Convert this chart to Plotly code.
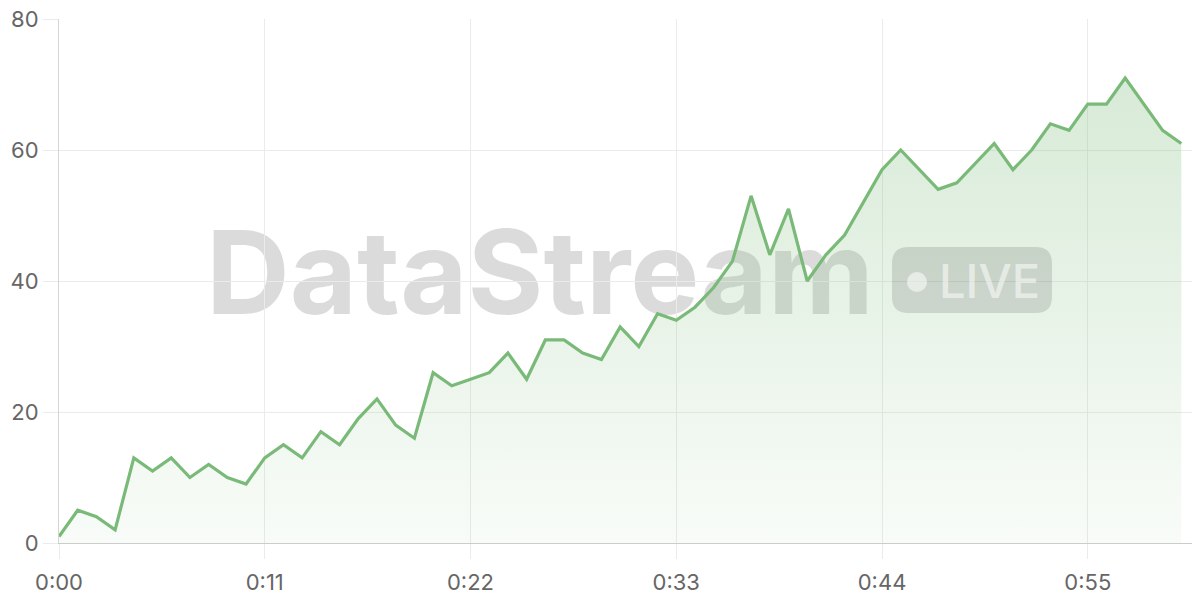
import plotly.graph_objects as go

# seconds since start and the streamed values
seconds = [0, 1, 2, 3, 4, 5, 6, 7, 8, 9, 10, 11, 12, 13, 14, 15, 16, 17, 18, 19,
           20, 21, 22, 23, 24, 25, 26, 27, 28, 29, 30, 31, 32, 33, 34, 35, 36, 37, 38, 39,
           40, 41, 42, 43, 44, 45, 46, 47, 48, 49, 50, 51, 52, 53, 54, 55, 56, 57, 58, 59, 60]
values = [1, 5, 4, 2, 13, 11, 13, 10, 12, 10, 9, 13, 15, 13, 17, 15, 19, 22, 18, 16,
          26, 24, 25, 26, 29, 25, 31, 31, 29, 28, 33, 30, 35, 34, 36, 39, 43, 53, 44, 51,
          40, 44, 47, 52, 57, 60, 57, 54, 55, 58, 61, 57, 60, 64, 63, 67, 67, 71, 67, 63, 61]

x_ticks = [0, 11, 22, 33, 44, 55]
x_labels = ["0:00", "0:11", "0:22", "0:33", "0:44", "0:55"]
y_ticks = [0, 20, 40, 60, 80]

green = "rgb(122,186,120)"

fig = go.Figure()
fig.add_trace(go.Scatter(
    x=seconds, y=values, mode="lines",
    line=dict(color=green, width=3.2),
    fill="tozeroy",
    fillgradient=dict(type="vertical", start=0, stop=72,
                      colorscale=[[0, "rgba(122,186,120,0.05)"], [1, "rgba(122,186,120,0.30)"]]),
    hoverinfo="skip",
))

# plot area in page pixels: x 59..1200, y 19..543
def px(x):
    return (x - 59) / 1141.0

def py(y):
    return (543 - y) / 524.0

# watermark, kept under the line
fig.add_shape(type="rect", xref="paper", yref="paper",
              x0=px(203), x1=px(880), y0=py(316), y1=py(220),
              fillcolor="rgba(0,0,0,0)", line_width=0, layer="below",
              label=dict(text="DataStream", textposition="middle left", padding=0,
                         font=dict(family="Inter", size=116, weight="bold",
                                   color="rgba(0,0,0,0.14)")))

# LIVE pill
x0, x1, y0, y1 = px(892), px(1052), py(313), py(247)
rx, ry = 16 / 1141.0, 16 / 524.0
pill = (f"M {x0+rx} {y0} L {x1-rx} {y0} Q {x1} {y0} {x1} {y0+ry} "
        f"L {x1} {y1-ry} Q {x1} {y1} {x1-rx} {y1} L {x0+rx} {y1} "
        f"Q {x0} {y1} {x0} {y1-ry} L {x0} {y0+ry} Q {x0} {y0} {x0+rx} {y0} Z")
fig.add_shape(type="path", path=pill, xref="paper", yref="paper",
              fillcolor="rgba(0,0,0,0.12)", line_width=0, layer="above")
fig.add_shape(type="circle", xref="paper", yref="paper",
              x0=px(907), x1=px(927), y0=py(292), y1=py(272),
              fillcolor="rgba(255,255,255,0.55)", line_width=0, layer="above")
fig.add_annotation(text="LIVE", xref="paper", yref="paper",
                   x=px(937), y=py(280), xanchor="left", yanchor="middle",
                   showarrow=False,
                   font=dict(family="Inter", size=47, weight=500, color="rgba(255,255,255,0.55)"))

# page has an 8px body margin, so the margins are shifted by 8
fig.update_layout(
    width=1200, height=600,
    margin=dict(l=51, r=8, t=11, b=65),
    paper_bgcolor="white", plot_bgcolor="white",
    showlegend=False,
    font=dict(family="Inter", size=22, color="#666666"),
    xaxis=dict(range=[0, 61], tickvals=x_ticks, ticktext=x_labels,
               showgrid=True, gridcolor="#ebebeb", gridwidth=1,
               ticks="outside", ticklen=15, tickcolor="#ebebeb",
               ticklabelstandoff=5, automargin=False,
               showline=True, linecolor="#cccccc", linewidth=1,
               zeroline=False, fixedrange=True),
    yaxis=dict(range=[0, 80], tickvals=y_ticks,
               showgrid=True, gridcolor="#ebebeb", gridwidth=1,
               ticks="outside", ticklen=15, tickcolor="#ebebeb",
               ticklabelstandoff=0, automargin=False, ticklabeloverflow="allow",
               showline=True, linecolor="#d5d5d5", linewidth=1,
               zeroline=False, fixedrange=True),
)

fig.write_html("out.html")
